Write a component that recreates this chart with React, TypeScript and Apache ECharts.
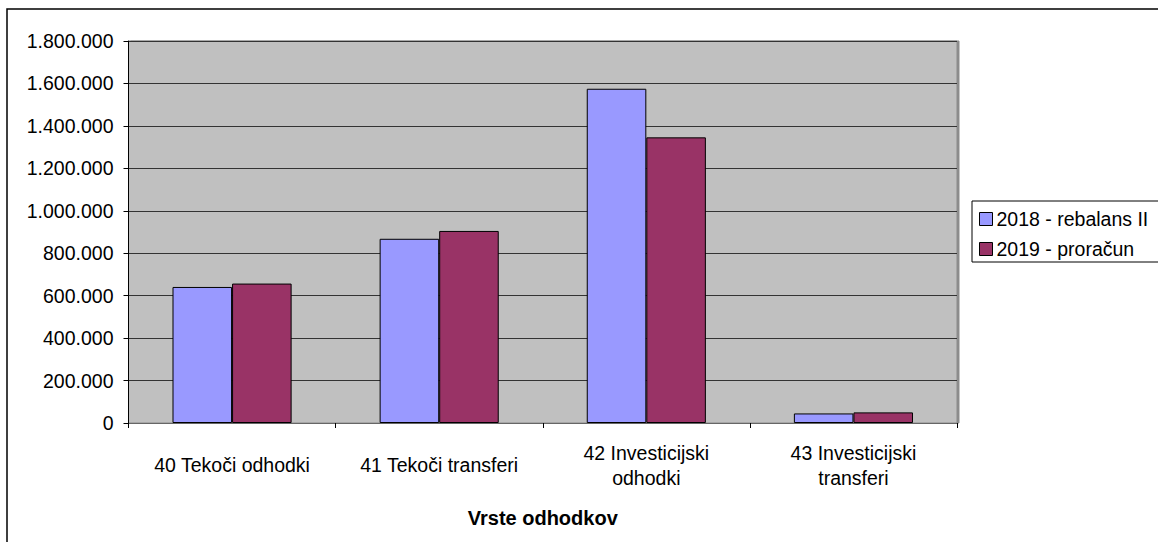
import React, { useEffect, useRef } from "react";
import * as echarts from "echarts";

const categories = [
  "40 Tekoči odhodki",
  "41 Tekoči transferi",
  "42 Investicijski\nodhodki",
  "43 Investicijski\ntransferi",
];
const series2018 = [641000, 868000, 1575000, 45000];
const series2019 = [657000, 905000, 1346000, 50000];
const seriesNames = ["2018 - rebalans II", "2019 - proračun"];
const axisTitle = "Vrste odhodkov";

const FONT = "'Liberation Sans', Arial, sans-serif";
const FS = 19.5;

function fmt(v: number): string {
  return String(Math.round(v)).replace(/\B(?=(\d{3})+(?!\d))/g, ".");
}

export default function App() {
  const ref = useRef<HTMLDivElement>(null);
  useEffect(() => {
    if (!ref.current) return;
    const chart = echarts.init(ref.current, null, { renderer: "svg" });
    chart.setOption({
      animation: false,
      backgroundColor: "#ffffff",
      textStyle: { fontFamily: FONT, color: "#000" },
      graphic: [
        {
          type: "rect",
          shape: { x: 7, y: 9, width: 1300, height: 700 },
          style: { fill: "none", stroke: "#000", lineWidth: 1.5 },
          z: 0,
        },
      ],
      grid: {
        left: 128.5,
        top: 41,
        right: 201,
        bottom: 119,
        show: true,
        backgroundColor: "#c0c0c0",
        borderColor: "#8c8c8c",
        borderWidth: 1,
        shadowColor: "#8c8c8c",
        shadowOffsetX: 2,
        shadowOffsetY: 0,
        shadowBlur: 0,
      },
      legend: {
        orient: "vertical",
        left: 972,
        top: 201,
        backgroundColor: "#fff",
        borderColor: "#000",
        borderWidth: 1,
        padding: [8, 40, 3, 7],
        itemGap: 10,
        itemWidth: 13,
        itemHeight: 13,
        icon: "rect",
        itemStyle: { borderColor: "#000", borderWidth: 1 },
        textStyle: { fontFamily: FONT, fontSize: FS, color: "#000", padding: [0, 0, 0, -1] },
        data: seriesNames,
      },
      xAxis: {
        type: "category",
        data: categories,
        name: axisTitle,
        nameLocation: "middle",
        nameGap: 95,
        nameTextStyle: {
          fontFamily: FONT,
          fontSize: 20,
          fontWeight: "bold",
          color: "#000",
          verticalAlign: "middle",
        },
        axisLine: { lineStyle: { color: "#666", width: 1 } },
        axisTick: { show: true, alignWithLabel: false, length: 5, lineStyle: { color: "#000" } },
        axisLabel: {
          fontFamily: FONT,
          fontSize: FS,
          color: "#000",
          margin: 42,
          verticalAlign: "middle",
          lineHeight: 25,
          interval: 0,
        },
      },
      yAxis: {
        type: "value",
        min: 0,
        max: 1800000,
        interval: 200000,
        axisLine: { show: true, lineStyle: { color: "#000", width: 1 } },
        axisTick: { show: true, length: 5, lineStyle: { color: "#000" } },
        axisLabel: {
          fontFamily: FONT,
          fontSize: FS,
          color: "#000",
          margin: 15,
          formatter: (v: number) => fmt(v),
        },
        splitLine: { show: true, lineStyle: { color: "#333", width: 1 } },
      },
      series: [
        {
          name: seriesNames[0],
          type: "bar",
          data: series2018,
          barGap: "0%",
          barCategoryGap: "42.5%",
          itemStyle: { color: "#9999ff", borderColor: "#000", borderWidth: 1 },
        },
        {
          name: seriesNames[1],
          type: "bar",
          data: series2019,
          barGap: "0%",
          barCategoryGap: "42.5%",
          itemStyle: { color: "#993366", borderColor: "#000", borderWidth: 1 },
        },
      ],
    });
    return () => chart.dispose();
  }, []);
  return (
    <div
      ref={ref}
      style={{ position: "absolute", left: 0, top: 0, width: 1158, height: 542 }}
    />
  );
}
